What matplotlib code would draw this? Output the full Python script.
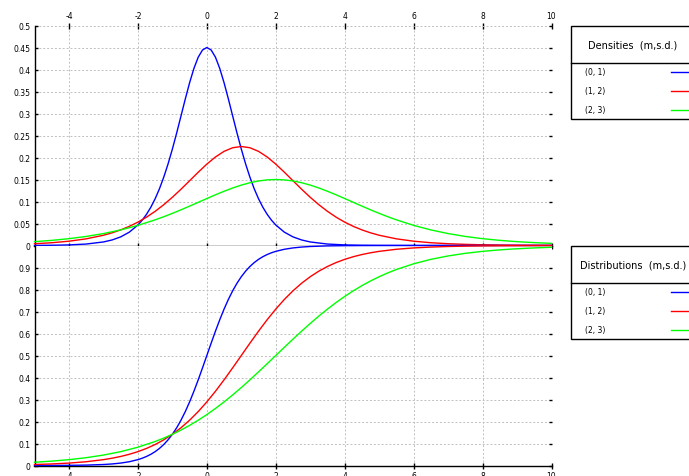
import matplotlib
matplotlib.use("Agg")
import matplotlib.pyplot as plt
from matplotlib.patches import Rectangle
from matplotlib.lines import Line2D

plt.rcParams["axes.unicode_minus"] = False

# ---- data ----
x_blue = [-5, -4.5, -4, -3.5, -3, -2.75, -2.5, -2.25,
          -2, -1.875, -1.75, -1.625, -1.5, -1.375, -1.25, -1.125, -1, -0.875, -0.75, -0.625,
          -0.5, -0.375, -0.25, -0.125, 0, 0.125, 0.25, 0.375, 0.5, 0.625, 0.75, 0.875,
          1, 1.125, 1.25, 1.375, 1.5, 1.625, 1.75, 1.875, 2,
          2.25, 2.5, 2.75, 3, 3.5, 4, 4.5, 5, 6, 7, 8, 9, 10]
dens_blue = [0.00022, 0.00055, 0.00134, 0.00330, 0.00807, 0.01257, 0.01956, 0.03029,
             0.04661, 0.05758, 0.07092, 0.08701, 0.10621, 0.12889, 0.15527, 0.18541, 0.21913, 0.25576,
             0.29428, 0.33303, 0.36990, 0.40240, 0.42797, 0.44435, 0.45, 0.44435, 0.42797, 0.40240,
             0.36990, 0.33303, 0.29428, 0.25576, 0.21913, 0.18541, 0.15527, 0.12889, 0.10621, 0.08701,
             0.07092, 0.05758, 0.04661,
             0.03029, 0.01956, 0.01257, 0.00807, 0.00330, 0.00134, 0.00055, 0.00022, 0.0, 0.0, 0.0, 0.0, 0.0]
dist_blue = [0.00012, 0.0003, 0.00075, 0.00183, 0.00450, 0.00703, 0.01099, 0.01712,
             0.02660, 0.03309, 0.04109, 0.05093, 0.06297, 0.07763, 0.09535, 0.11660, 0.14186, 0.17150,
             0.20587, 0.24508, 0.28905, 0.33738, 0.38937, 0.44399, 0.5, 0.55601, 0.61063, 0.66262,
             0.71095, 0.75492, 0.79413, 0.82850, 0.85814, 0.88340, 0.90465, 0.92237, 0.93703, 0.94907,
             0.95891, 0.96691, 0.97340,
             0.98288, 0.98901, 0.99297, 0.99550, 0.99817, 0.99925, 0.9997, 0.99988, 1.0, 1.0, 1.0, 1.0, 1.0]

x_red = [-5, -4.5, -4, -3.5, -3, -2.75, -2.5, -2.25, -2, -1.75, -1.5, -1.25, -1, -0.75, -0.5, -0.25,
         0, 0.25, 0.5, 0.75, 1, 1.25, 1.5, 1.75, 2, 2.25, 2.5, 2.75, 3, 3.25, 3.5, 3.75, 4, 4.25,
         4.5, 4.75, 5, 5.5, 6, 6.5, 7, 7.5, 8, 8.5, 9, 9.5, 10]
dens_red = [0.00403, 0.00628, 0.00978, 0.01515, 0.02330, 0.02879, 0.03546, 0.04350, 0.05311, 0.06444,
            0.07763, 0.09271, 0.10957, 0.12788, 0.14714, 0.16652, 0.18495, 0.20120, 0.21398, 0.22218,
            0.225, 0.22218, 0.21398, 0.20120, 0.18495, 0.16652, 0.14714, 0.12788, 0.10957, 0.09271,
            0.07763, 0.06444, 0.05311, 0.04350, 0.03546, 0.02879, 0.02330, 0.01515, 0.00978, 0.00628,
            0.00403, 0.00258, 0.00165, 0.00105, 0.00067, 0.00043, 0.00027]
dist_red = [0.00450, 0.00703, 0.01099, 0.01712, 0.02660, 0.03309, 0.04109, 0.05093, 0.06297, 0.07763,
            0.09535, 0.11660, 0.14186, 0.17150, 0.20587, 0.24508, 0.28905, 0.33738, 0.38937, 0.44399,
            0.5, 0.55601, 0.61063, 0.66262, 0.71095, 0.75492, 0.79413, 0.82850, 0.85814, 0.88340,
            0.90465, 0.92237, 0.93703, 0.94907, 0.95891, 0.96691, 0.97340, 0.98288, 0.98901, 0.99297,
            0.99550, 0.99713, 0.99817, 0.99883, 0.99925, 0.99952, 0.9997]

x_green = [-5, -4.5, -4, -3.5, -3, -2.5, -2, -1.5, -1.25, -1, -0.75, -0.5, -0.25, 0, 0.25, 0.5, 0.75,
           1, 1.25, 1.5, 1.75, 2, 2.25, 2.5, 2.75, 3, 3.25, 3.5, 3.75, 4, 4.25, 4.5, 4.75, 5, 5.25,
           5.5, 6, 6.5, 7, 7.5, 8, 8.5, 9, 9.5, 10]
dens_green = [0.00873, 0.01167, 0.01553, 0.02058, 0.02711, 0.03541, 0.04575, 0.05832, 0.06542, 0.07304,
              0.08109, 0.08949, 0.09809, 0.10674, 0.11522, 0.12330, 0.13074, 0.13727, 0.14266, 0.14668,
              0.14916, 0.15, 0.14916, 0.14668, 0.14266, 0.13727, 0.13074, 0.12330, 0.11522, 0.10674,
              0.09809, 0.08949, 0.08109, 0.07304, 0.06542, 0.05832, 0.04575, 0.03541, 0.02711, 0.02058,
              0.01553, 0.01167, 0.00873, 0.00652, 0.00486]
dist_green = [0.01477, 0.01984, 0.02660, 0.03557, 0.04743, 0.06297, 0.08317, 0.10910, 0.12455, 0.14186,
              0.16111, 0.18243, 0.20587, 0.23148, 0.25922, 0.28905, 0.32082, 0.35434, 0.38937, 0.42556,
              0.46257, 0.5, 0.53743, 0.57444, 0.61063, 0.64566, 0.67918, 0.71095, 0.74078, 0.76853,
              0.79413, 0.81757, 0.83889, 0.85814, 0.87545, 0.89090, 0.91683, 0.93703, 0.95257, 0.96443,
              0.97340, 0.98016, 0.98523, 0.98901, 0.99184]

series_labels = ["(0, 1)", "(1, 2)", "(2, 3)"]
colors = ["#0000ff", "#ff0000", "#00ff00"]
x_ticks = [-4, -2, 0, 2, 4, 6, 8, 10]
dens_ticks = [0, 0.05, 0.1, 0.15, 0.2, 0.25, 0.3, 0.35, 0.4, 0.45, 0.5]
dist_ticks = [0, 0.1, 0.2, 0.3, 0.4, 0.5, 0.6, 0.7, 0.8, 0.9]

W, H = 689, 477
fig = plt.figure(figsize=(W / 100, H / 100), dpi=100)
fig.patch.set_facecolor("white")

def fx(px):
    return px / W

def fy(py):
    return 1 - py / H

left, right = 34.5, 551.5
ax1 = fig.add_axes([fx(left), fy(246.5), (right - left) / W, 220 / H])
ax2 = fig.add_axes([fx(left), fy(466.5), (right - left) / W, 220 / H])

def fmt(v):
    return ("%.2f" % v).rstrip("0").rstrip(".")

for ax in (ax1, ax2):
    ax.set_xlim(-5, 10)
    ax.set_xticks(x_ticks)
    ax.set_xticklabels([str(t) for t in x_ticks])
    ax.grid(True, color="#c0c0c0", linestyle=(0, (2, 2)), linewidth=0.7)
    ax.set_axisbelow(True)
    for s in ("top", "right"):
        ax.spines[s].set_visible(False)
    for s in ("left", "bottom"):
        ax.spines[s].set_color("black")
        ax.spines[s].set_linewidth(1.0)
    ax.tick_params(axis="y", which="both", left=True, right=True, direction="in",
                   length=2.5, width=1, labelsize=5.5, pad=3.0, colors="black")

ax1.set_ylim(0, 0.5)
ax1.set_yticks(dens_ticks)
ax1.set_yticklabels([fmt(v) for v in dens_ticks])
ax1.tick_params(axis="x", top=True, bottom=True, labeltop=True, labelbottom=False,
                direction="inout", length=5, width=1, labelsize=5.5, pad=1.5)
ax2.set_ylim(0, 1.0)
ax2.set_yticks(dist_ticks)
ax2.set_yticklabels([fmt(v) for v in dist_ticks])
ax2.tick_params(axis="x", top=False, bottom=True, labeltop=False, labelbottom=True,
                direction="inout", length=5, width=1, labelsize=5.5, pad=1.5)

dens = [(x_blue, dens_blue), (x_red, dens_red), (x_green, dens_green)]
dist = [(x_blue, dist_blue), (x_red, dist_red), (x_green, dist_green)]
for (xs, ys), c in zip(dens, colors):
    ax1.plot(xs, ys, color=c, lw=1.0, clip_on=False, zorder=3, solid_joinstyle="round")
for (xs, ys), c in zip(dist, colors):
    ax2.plot(xs, ys, color=c, lw=1.0, clip_on=False, zorder=3, solid_joinstyle="round")

# ---- legend boxes ----
def legend_box(top, title, title_x):
    bottom = top + 92.7
    fig.patches.append(Rectangle((fx(570.7), fy(bottom)), fx(140), (bottom - top) / H,
                                 transform=fig.transFigure, facecolor="white",
                                 edgecolor="black", linewidth=1.0))
    fig.text(fx(title_x), fy(top + 18.5), title, fontsize=7, ha="center", va="center")
    fig.lines.append(Line2D([fx(570.7), fx(700)], [fy(top + 37), fy(top + 37)],
                            transform=fig.transFigure, color="black", lw=1.0))
    for i, (lab, c) in enumerate(zip(series_labels, colors)):
        yy = top + 45.5 + i * 19
        fig.text(fx(585), fy(yy), lab, fontsize=5.5, ha="left", va="center")
        fig.lines.append(Line2D([fx(671), fx(700)], [fy(yy), fy(yy)],
                                transform=fig.transFigure, color=c, lw=1.0))

legend_box(27.3, "Densities  (m,s.d.)", 632.5)
legend_box(247.3, "Distributions  (m,s.d.)", 633)

fig.savefig("out.png", dpi=100, facecolor="white")
